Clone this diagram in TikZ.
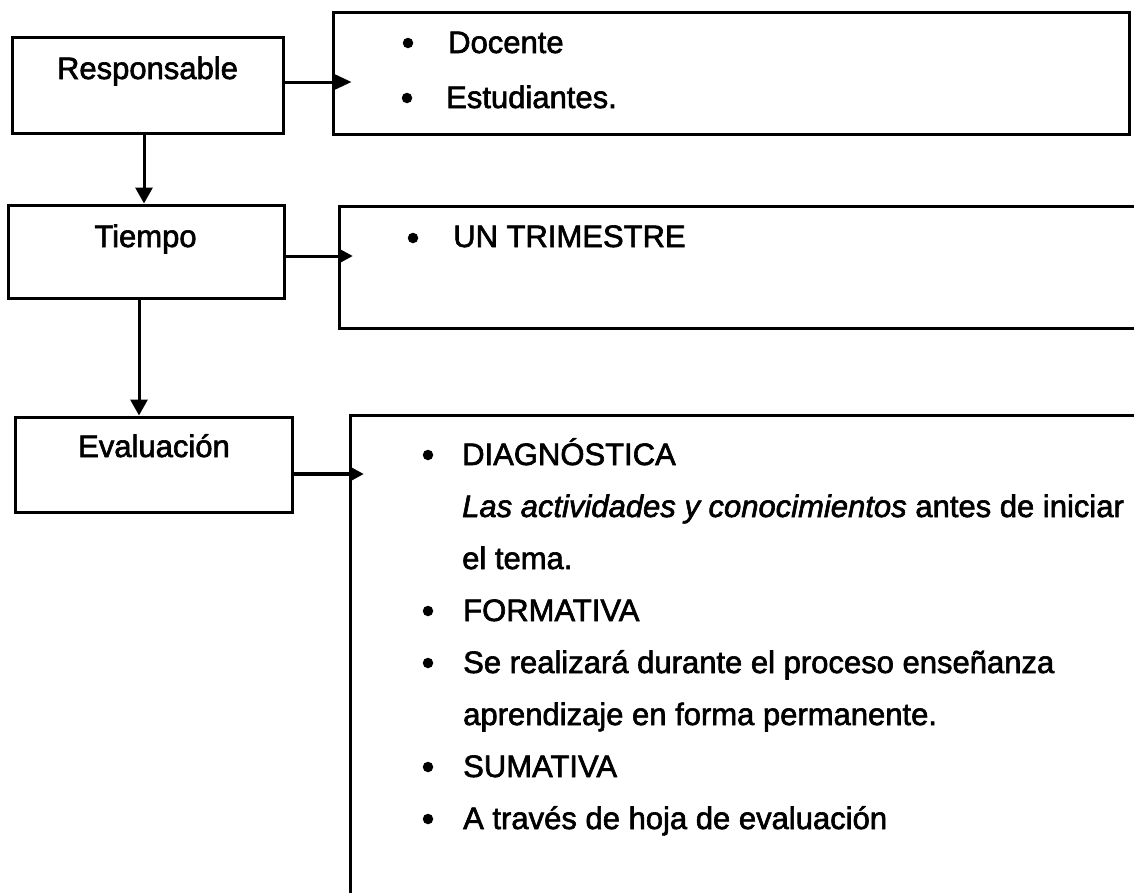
\documentclass[tikz,border=0pt]{standalone}
\usepackage{fontspec}
\setmainfont{Liberation Sans}[AutoFakeBold=2]
\newfontfamily\scanit{Liberation Sans}[ItalicFeatures={FakeBold=2}]
\usetikzlibrary{arrows.meta}
\begin{document}
\begin{tikzpicture}[x=1pt,y=-1pt,
  box/.style={draw, line width=3pt, inner sep=0pt},
  ghost/.style={inner sep=0pt},
  side/.style={line width=3pt, line cap=rect},
  txt/.style={font=\fontsize{31}{36}\selectfont\bfseries, inner sep=0pt, anchor=base west},
  dot/.style={circle, fill=black, inner sep=0pt, minimum size=10.5pt},
  harr/.style={line width=3pt, -{Triangle[length=13pt,width=13pt]}},
  varr/.style={line width=3pt, -{Triangle[length=16pt,width=17pt]}}
]
\useasboundingbox (0,0) rectangle (1134,892);
\fill[white] (0,0) rectangle (1134,892);
\clip (0,0) rectangle (1134,892);

% left boxes
\node[box, minimum width=271pt, minimum height=96pt] (resp) at (147.5,85) {};
\node[box, minimum width=276pt, minimum height=93pt] (tiem) at (146,251.5) {};
\node[box, minimum width=277pt, minimum height=95pt] (eval) at (153.5,464.5) {};

\node[txt, anchor=base] (tresp) at (147.5,79) {Responsable};
\node[txt, anchor=base] (ttiem) at (145.5,247) {Tiempo};
\node[txt, anchor=base] (teval) at (154,457) {Evaluación};

% right boxes
\node[box, minimum width=796pt, minimum height=122pt] (doc) at (731,73) {};
\node[ghost, minimum width=800pt, minimum height=121pt] (tri) at (740,267.5) {};
\draw[side] (tri.north east) -- (tri.north west) -- (tri.south west) -- (tri.south east);
\node[ghost, minimum width=789pt, minimum height=484pt] (evc) at (745.5,658) {};
\draw[side] (evc.north east) -- (evc.north west) -- (evc.south west);

% texts in right boxes
\node[dot] (b1) at (408,43) {};
\node[txt] (t1) at (448,53) {Docente};
\node[dot] (b2) at (407,98) {};
\node[txt] (t2) at (446,108) {Estudiantes.};

\node[dot] (b3) at (413,238) {};
\node[txt] (t3) at (453,247) {UN TRIMESTRE};

\node[dot] (b4) at (428,455) {};
\node[txt] (t4) at (462,465) {DIAGNÓSTICA};
\node[txt] (t5) at (462,517) {{\scanit\mdseries\itshape Las actividades y conocimientos} antes de iniciar};
\node[txt] (t6) at (462,569) {el tema.};
\node[dot] (b7) at (428,611) {};
\node[txt] (t7) at (463,621) {FORMATIVA};
\node[dot] (b8) at (428,663) {};
\node[txt] (t8) at (463,673) {Se realizará durante el proceso enseñanza};
\node[txt] (t9) at (463,725) {aprendizaje en forma permanente.};
\node[dot] (b10) at (428,767) {};
\node[txt] (t10) at (463,777) {SUMATIVA};
\node[dot] (b11) at (428,819) {};
\node[txt] (t11) at (463,829) {A través de hoja de evaluación};

% connectors
\draw[harr, -{Triangle[length=17pt,width=15pt]}, shorten >=-20pt]
  ([yshift=3pt]resp.east) -- ([yshift=3pt]resp.east -| doc.west);
\draw[harr, shorten >=-13pt]
  ([yshift=-4.5pt]tiem.east) -- ([yshift=-4.5pt]tiem.east -| tri.west);
\draw[harr, line width=3.5pt, shorten >=-13pt]
  ([yshift=-9.5pt]eval.east) -- ([yshift=-9.5pt]eval.east -| evc.west);
\draw[varr] ([xshift=-3.5pt]resp.south) -- ([xshift=-3.5pt]resp.south |- tiem.north);
\draw[varr] ([xshift=-7pt]tiem.south) -- ([xshift=-7pt]tiem.south |- eval.north);
\end{tikzpicture}
\end{document}
